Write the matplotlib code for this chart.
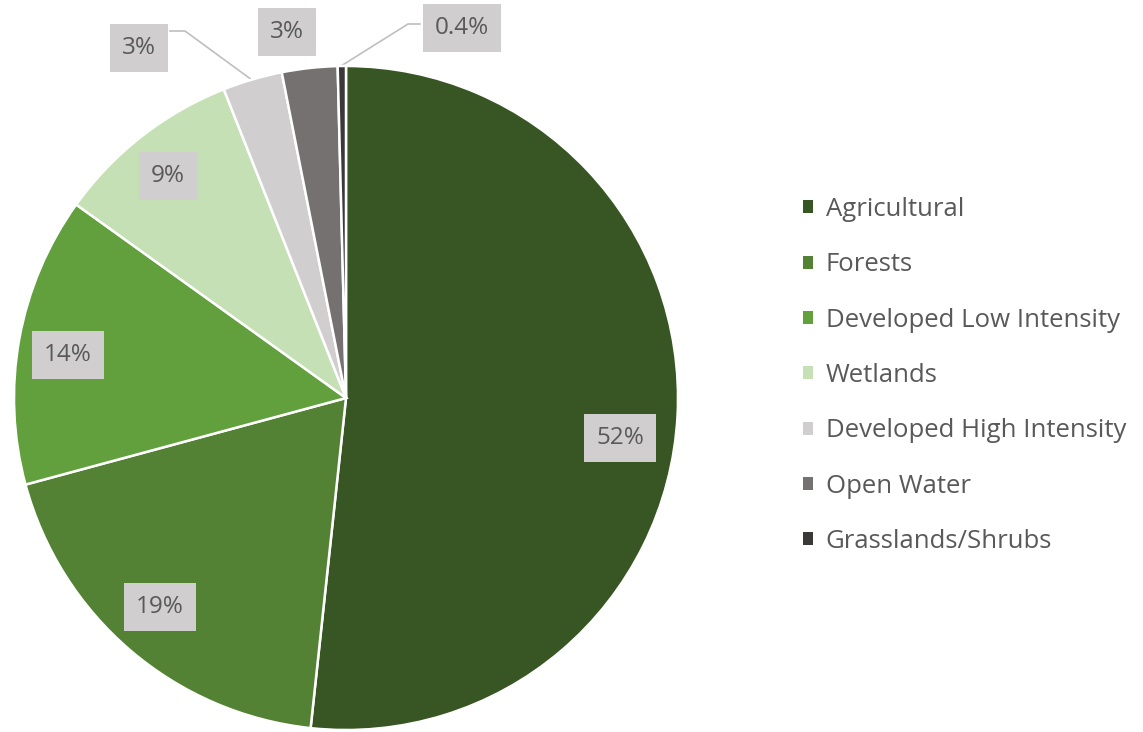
import matplotlib
matplotlib.use("Agg")
import matplotlib.pyplot as plt
import numpy as np

categories = ["Agricultural", "Forests", "Developed Low Intensity", "Wetlands",
              "Developed High Intensity", "Open Water", "Grasslands/Shrubs"]
values = [51.7, 19.1, 14.1, 9.1, 2.9, 2.7, 0.4]
colors = ["#375623", "#548235", "#62a03e", "#c5e0b4", "#d0cece", "#767171", "#3b3838"]

W, H = 1143, 732
fig = plt.figure(figsize=(W / 100, H / 100), dpi=100)
ax = fig.add_axes([0, 0, 1, 1])

plt.rcParams['font.family'] = ['Open Sans', 'DejaVu Sans']
txt_color = "#595959"
fs = 17.5
lfs = 18.5

center = (346, H - 398)
radius = 332
wedges, _ = ax.pie(values, colors=colors, startangle=90, counterclock=False,
                   center=center, radius=radius, frame=True,
                   wedgeprops=dict(edgecolor="white", linewidth=1.8))
ax.set_xlim(0, W)
ax.set_ylim(0, H)
ax.set_aspect("equal")
ax.axis("off")

def fmt(v):
    return f"{v:.1f}%" if v < 1 else f"{round(v):.0f}%"

# label positions (pixel layout, top-left origin)
label_pos = [(620, 438), (160, 607), (68, 355), (168, 176), (139, 48), (287, 32), (462, 28)]
box = dict(boxstyle="square,pad=0.5", fc="#d0cece", ec="none")
for v, (px, py) in zip(values, label_pos):
    ax.text(px, H - py, fmt(v), ha="center", va="center", fontsize=fs,
            color=txt_color, bbox=box)

# leader lines for small slices
lc = "#bfbfbf"
ax.plot([170, 185, 252], [H - 31, H - 31, H - 80], color=lc, lw=1.2, zorder=0.5)
ax.plot([420, 408, 341], [H - 24, H - 24, H - 66], color=lc, lw=1.2, zorder=0.5)

leg = ax.legend(wedges, categories, loc="center left", bbox_to_anchor=(0.682, 0.487),
                bbox_transform=fig.transFigure, frameon=False, fontsize=lfs,
                handlelength=0.4, handleheight=0.4, handletextpad=0.5,
                labelspacing=1.18, labelcolor=txt_color)
for h in leg.legend_handles:
    h.set_edgecolor("none")

fig.savefig("out.png", dpi=100, facecolor="white")
